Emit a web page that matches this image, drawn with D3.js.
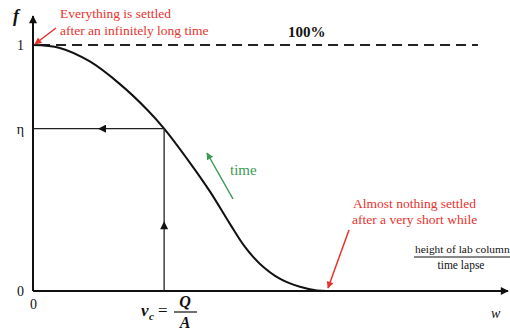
<!DOCTYPE html>
<html>
  <head>
    <script src="https://d3js.org/d3.v7.min.js" charset="utf-8"></script>
    <style>
    body { margin: 0; background: white; }
    svg text { font-family: "Liberation Serif", "DejaVu Serif", "Times New Roman", serif !important; }
    </style>
  </head>
  <body>
    <script>
// settling curve, f vs w
var curveW = [0, 0.57, 1.21, 1.85, 2.43, 2.79, 3.34, 3.77, 4.19, 4.51, 4.83, 5.26, 5.68, 6.04, 6.26];
var curveF = [1.0, 0.988, 0.933, 0.841, 0.737, 0.66, 0.521, 0.403, 0.273, 0.179, 0.11, 0.049, 0.017, 0.002, 0];
var eta = 0.66;
var vc = 2.79;
var yTicks = [0, eta, 1];
var yTickLabels = ["0", "η", "1"];
var xTicks = [0];

var width = 510, height = 330;
var serif = '"Liberation Serif", "DejaVu Serif", serif';
var svg = d3.select("body").append("svg")
  .attr("width", width).attr("height", height);

var x = d3.scaleLinear().domain([0, 10]).range([33, 503]);
var y = d3.scaleLinear().domain([0, 1]).range([291, 45]);

var defs = svg.append("defs");
function marker(id, color, w, h) {
  defs.append("marker").attr("id", id)
    .attr("viewBox", "0 0 10 10").attr("refX", 9).attr("refY", 5)
    .attr("markerWidth", w).attr("markerHeight", h)
    .attr("markerUnits", "userSpaceOnUse")
    .attr("orient", "auto")
    .append("path").attr("d", "M0,0 L10,5 L0,10 z").attr("fill", color);
}
marker("blk", "#111", 11, 8);
marker("red", "#e8322e", 9, 7);
marker("grn", "#3a9a55", 9, 7);

// axes
var yAxis = d3.axisLeft(y).tickValues(yTicks).tickSize(0).tickPadding(9)
  .tickFormat(function(d, i) { return yTickLabels[i]; });
var gy = svg.append("g").attr("transform", "translate(" + x(0) + ",0)").call(yAxis)
  .attr("font-family", serif);
gy.select(".domain").remove();
gy.selectAll("text").attr("font-size", 14).attr("fill", "#111");

var xAxis = d3.axisBottom(x).tickValues(xTicks).tickSize(0).tickPadding(8).tickFormat(d3.format("d"));
var gx = svg.append("g").attr("transform", "translate(0," + y(0) + ")").call(xAxis)
  .attr("font-family", serif);
gx.select(".domain").remove();
gx.selectAll("text").attr("font-size", 14).attr("fill", "#111");

svg.append("line").attr("x1", x(0)).attr("y1", y(0)).attr("x2", x(0)).attr("y2", 16)
  .attr("stroke", "#111").attr("stroke-width", 2).attr("marker-end", "url(#blk)");
svg.append("line").attr("x1", x(0)).attr("y1", y(0)).attr("x2", 508).attr("y2", y(0))
  .attr("stroke", "#111").attr("stroke-width", 2).attr("marker-end", "url(#blk)");

// 100% dashed line
svg.append("line").attr("x1", x(0.15)).attr("x2", 478).attr("y1", y(1)).attr("y2", y(1))
  .attr("stroke", "#222").attr("stroke-width", 2).attr("stroke-dasharray", "10,6");
svg.append("text").attr("x", 288).attr("y", 37).attr("font-size", 15).attr("font-weight", "bold")
  .attr("fill", "#111").text("100%");

// curve
var pts = curveW.map(function(w, i) { return [w, curveF[i]]; });
svg.append("path").datum(pts)
  .attr("fill", "none").attr("stroke", "#111").attr("stroke-width", 2)
  .attr("d", d3.line().x(function(d) { return x(d[0]); }).y(function(d) { return y(d[1]); })
    .curve(d3.curveCatmullRom.alpha(0.5)));

// eta construction lines
svg.append("line").attr("x1", x(vc)).attr("x2", x(vc)).attr("y1", y(0)).attr("y2", y(eta))
  .attr("stroke", "#222").attr("stroke-width", 1.3);
svg.append("line").attr("x1", x(vc)).attr("x2", x(vc)).attr("y1", y(0)).attr("y2", y(0.28))
  .attr("stroke", "none").attr("marker-end", "url(#blk)");
svg.append("line").attr("x1", x(0)).attr("x2", x(vc)).attr("y1", y(eta)).attr("y2", y(eta))
  .attr("stroke", "#222").attr("stroke-width", 1.3);
svg.append("line").attr("x1", x(vc)).attr("x2", x(1.4)).attr("y1", y(eta)).attr("y2", y(eta))
  .attr("stroke", "none").attr("marker-end", "url(#blk)");

// axis names
svg.append("text").attr("x", 13).attr("y", 22).attr("font-size", 18).attr("font-style", "italic")
  .attr("font-weight", "bold").attr("fill", "#111").text("f");
svg.append("text").attr("x", 491).attr("y", 318).attr("font-size", 14).attr("font-style", "italic")
  .attr("fill", "#111").text("w");

// fraction label on the w axis
svg.append("text").attr("x", 415).attr("y", 253).attr("font-size", 11.4)
  .attr("fill", "#111").text("height of lab column");
svg.append("line").attr("x1", 414).attr("x2", 510).attr("y1", 257).attr("y2", 257)
  .attr("stroke", "#111").attr("stroke-width", 1);
svg.append("text").attr("x", 461).attr("y", 269).attr("text-anchor", "middle").attr("font-size", 11.5)
  .attr("fill", "#111").text("time lapse");

// vc = Q/A
var vcg = svg.append("g").attr("font-weight", "bold").attr("fill", "#111");
vcg.append("text").attr("x", 141).attr("y", 316).attr("font-size", 17).attr("font-style", "italic").text("v");
vcg.append("text").attr("x", 149).attr("y", 320).attr("font-size", 11).attr("font-style", "italic").text("c");
vcg.append("text").attr("x", 158).attr("y", 316).attr("font-size", 17).attr("font-weight", "normal").text("=");
vcg.append("text").attr("x", 185).attr("y", 307).attr("text-anchor", "middle").attr("font-size", 16).attr("font-style", "italic").text("Q");
vcg.append("line").attr("x1", 174).attr("x2", 197).attr("y1", 312).attr("y2", 312).attr("stroke", "#111").attr("stroke-width", 1.2);
vcg.append("text").attr("x", 185).attr("y", 328).attr("text-anchor", "middle").attr("font-size", 16).attr("font-style", "italic").text("A");

// red annotations
var red = "#e8322e";
svg.append("text").attr("x", 60).attr("y", 18).attr("font-size", 13.5).attr("fill", red).text("Everything is settled");
svg.append("text").attr("x", 60).attr("y", 35).attr("font-size", 13.5).attr("fill", red).text("after an infinitely long time");
svg.append("line").attr("x1", 56).attr("y1", 28).attr("x2", x(0) + 2).attr("y2", y(1) - 1)
  .attr("stroke", red).attr("stroke-width", 1.5).attr("marker-end", "url(#red)");

svg.append("text").attr("x", 353).attr("y", 208).attr("font-size", 13.5).attr("fill", red).text("Almost nothing settled");
svg.append("text").attr("x", 352).attr("y", 224).attr("font-size", 13.5).attr("fill", red).text("after a very short while");
svg.append("line").attr("x1", 349).attr("y1", 230).attr("x2", 328).attr("y2", 288)
  .attr("stroke", red).attr("stroke-width", 1.5).attr("marker-end", "url(#red)");

// time arrow
var green = "#3a9a55";
svg.append("line").attr("x1", 233).attr("y1", 199).attr("x2", 207).attr("y2", 153)
  .attr("stroke", green).attr("stroke-width", 1.5).attr("marker-end", "url(#grn)");
svg.append("text").attr("x", 230).attr("y", 175).attr("font-size", 15).attr("fill", green).text("time");
    </script>
  </body>
</html>
